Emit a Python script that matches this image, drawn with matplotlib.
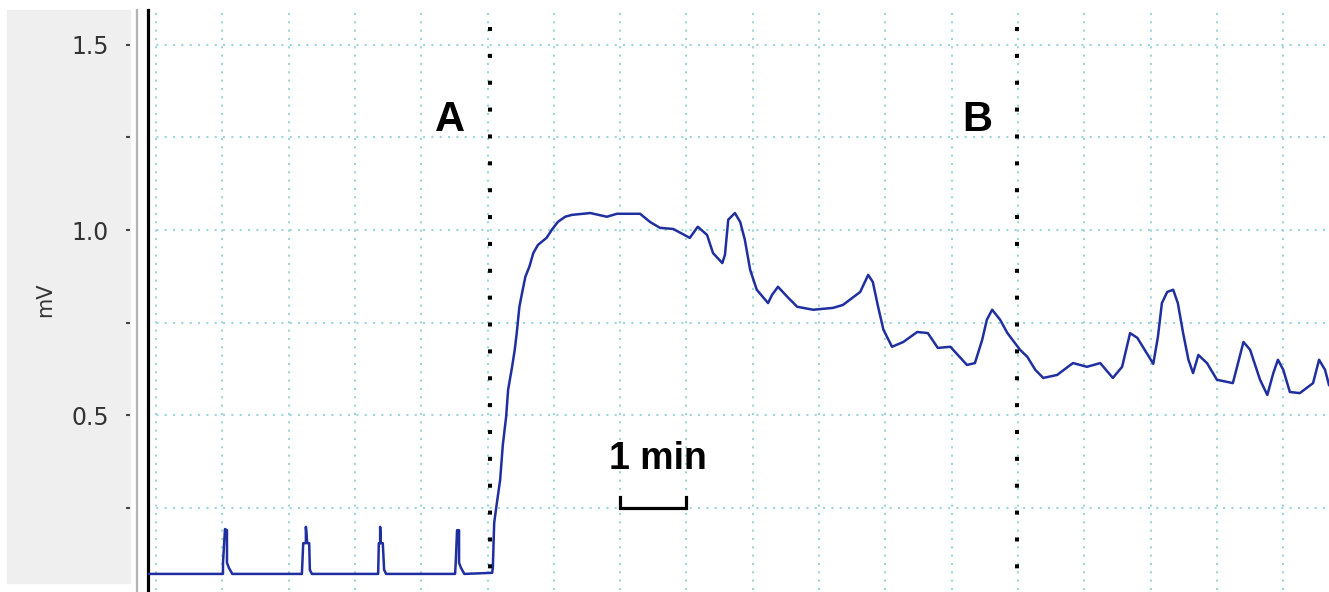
import matplotlib
matplotlib.use("Agg")
import matplotlib.pyplot as plt
from matplotlib.patches import Rectangle
from matplotlib.lines import Line2D

# time in minutes (grid = 1 min), signal in mV
base_t = [-0.12, 1.01, 1.01, 1.04, 1.07, 1.07, 1.10, 1.15,
          2.20, 2.22, 2.26, 2.26, 2.28, 2.31, 2.32, 2.35,
          3.35, 3.36, 3.38, 3.38, 3.39, 3.42, 3.44, 3.47,
          4.51, 4.52, 4.54, 4.57, 4.57, 4.60, 4.65, 5.07]
base_v = [0.072, 0.072, 0.102, 0.193, 0.190, 0.102, 0.088, 0.072,
          0.072, 0.155, 0.155, 0.199, 0.155, 0.155, 0.083, 0.072,
          0.072, 0.155, 0.155, 0.199, 0.155, 0.155, 0.083, 0.072,
          0.072, 0.102, 0.190, 0.190, 0.102, 0.088, 0.072, 0.075]

resp_t = [5.08, 5.10, 5.14, 5.19, 5.23, 5.28, 5.31, 5.37, 5.41, 5.44,
          5.48, 5.52, 5.57, 5.63, 5.69, 5.76, 5.89, 5.97, 6.06, 6.17,
          6.27, 6.55, 6.80, 6.95, 7.10, 7.30, 7.45, 7.60, 7.80, 8.05,
          8.17, 8.31, 8.40, 8.54, 8.58, 8.63, 8.73, 8.81, 8.88, 8.96,
          9.06, 9.23, 9.29, 9.38, 9.52, 9.67, 9.91, 10.21, 10.36, 10.62,
          10.74, 10.81, 10.89, 10.97, 11.10, 11.27, 11.48, 11.64, 11.79, 11.98,
          12.23, 12.35, 12.46, 12.53, 12.61, 12.73, 12.84, 13.03, 13.14, 13.26,
          13.38, 13.59, 13.79, 13.83, 14.04, 14.24, 14.43, 14.57, 14.69, 14.80,
          15.04, 15.11, 15.17, 15.25, 15.34, 15.41, 15.49, 15.57, 15.64, 15.72,
          15.85, 16.00, 16.24, 16.40, 16.50, 16.65, 16.76, 16.85, 16.92, 17.00,
          17.10, 17.25, 17.45, 17.54, 17.63, 17.69]
resp_v = [0.091, 0.210, 0.263, 0.326, 0.420, 0.496, 0.569, 0.631, 0.677, 0.722,
          0.793, 0.830, 0.874, 0.901, 0.938, 0.960, 0.979, 1.001, 1.022, 1.036,
          1.041, 1.046, 1.036, 1.044, 1.044, 1.044, 1.022, 1.006, 1.003, 0.979,
          1.009, 0.987, 0.938, 0.911, 0.933, 1.028, 1.046, 1.022, 0.974, 0.893,
          0.839, 0.803, 0.825, 0.847, 0.820, 0.793, 0.785, 0.790, 0.798, 0.833,
          0.879, 0.860, 0.793, 0.731, 0.685, 0.698, 0.725, 0.722, 0.682, 0.685,
          0.636, 0.641, 0.704, 0.758, 0.785, 0.758, 0.722, 0.677, 0.658, 0.623,
          0.601, 0.609, 0.636, 0.641, 0.631, 0.641, 0.601, 0.631, 0.722, 0.709,
          0.639, 0.712, 0.803, 0.833, 0.839, 0.803, 0.722, 0.650, 0.614, 0.663,
          0.641, 0.596, 0.587, 0.698, 0.677, 0.596, 0.555, 0.614, 0.650, 0.623,
          0.563, 0.560, 0.587, 0.650, 0.623, 0.582]

yticks = [0.25, 0.5, 0.75, 1.0, 1.25, 1.5]
ytick_labels = ["", "0.5", "", "1.0", "", "1.5"]
markers = {"A": 5.03, "B": 12.98}

fig = plt.figure(figsize=(13.29, 5.92), dpi=100)
fig.patch.set_facecolor("white")

# grey side panel like the acquisition software (kept below the axes)
fig.patches.append(Rectangle((7 / 1329, 9 / 592), 123 / 1329, 573 / 592,
                             transform=fig.transFigure, color="#efefef", zorder=-2))
fig.lines.append(Line2D([137 / 1329, 137 / 1329], [0, 582 / 592], transform=fig.transFigure,
                        color="#b4b4b4", lw=1.6, zorder=-1))

ax = fig.add_axes([148 / 1329, 2 / 592, 1181 / 1329, 580 / 592])
ax.set_xlim(-0.121, 17.69)
ax.set_ylim(0.0286, 1.594)

for s in ["top", "right", "bottom"]:
    ax.spines[s].set_visible(False)
ax.spines["left"].set_linewidth(2.3)
ax.spines["left"].set_color("black")

ax.set_xticks(range(0, 18))
ax.set_yticks(yticks)
ax.set_yticklabels(ytick_labels, fontsize=17, color="#333333")
ax.tick_params(axis="x", length=0, labelbottom=False)
ax.tick_params(axis="y", length=0, pad=28)
ax.grid(True, color="#9fd6da", lw=1.5, linestyle=(0, (1, 3)))
ax.set_axisbelow(True)

# detached tick dashes in the side panel
ax.plot([-0.0169] * len(yticks), yticks, linestyle="none", marker="_", ms=3.5, mew=1.5,
        color="#444444", transform=ax.get_yaxis_transform(), clip_on=False)

fig.text(45 / 1329, 1 - 300 / 592, "mV", rotation=90, ha="center", va="center",
         fontsize=15, color="#333333")

# trace
ax.plot(base_t + resp_t, base_v + resp_v, color="#1f2f9f", lw=1.8, zorder=3)

# event markers
for name, t in markers.items():
    ax.plot([t, t], [1.549, 0.0286], color="black", lw=2.9,
            linestyle=(0, (1, 5.67)), dash_capstyle="butt", zorder=4)
    ax.text(t - 0.6, 1.297, name, fontsize=30, fontweight="bold",
            family="Liberation Sans", ha="center", va="center")

# 1 min scale bar
ax.plot([7.0, 7.0, 8.0, 8.0], [0.28, 0.25, 0.25, 0.28], color="black", lw=2.3,
        solid_joinstyle="miter", zorder=4)
ax.text(7.57, 0.382, "1 min", fontsize=27, fontweight="bold",
        family="Liberation Sans", ha="center", va="center")

fig.savefig("out.png", dpi=100)
